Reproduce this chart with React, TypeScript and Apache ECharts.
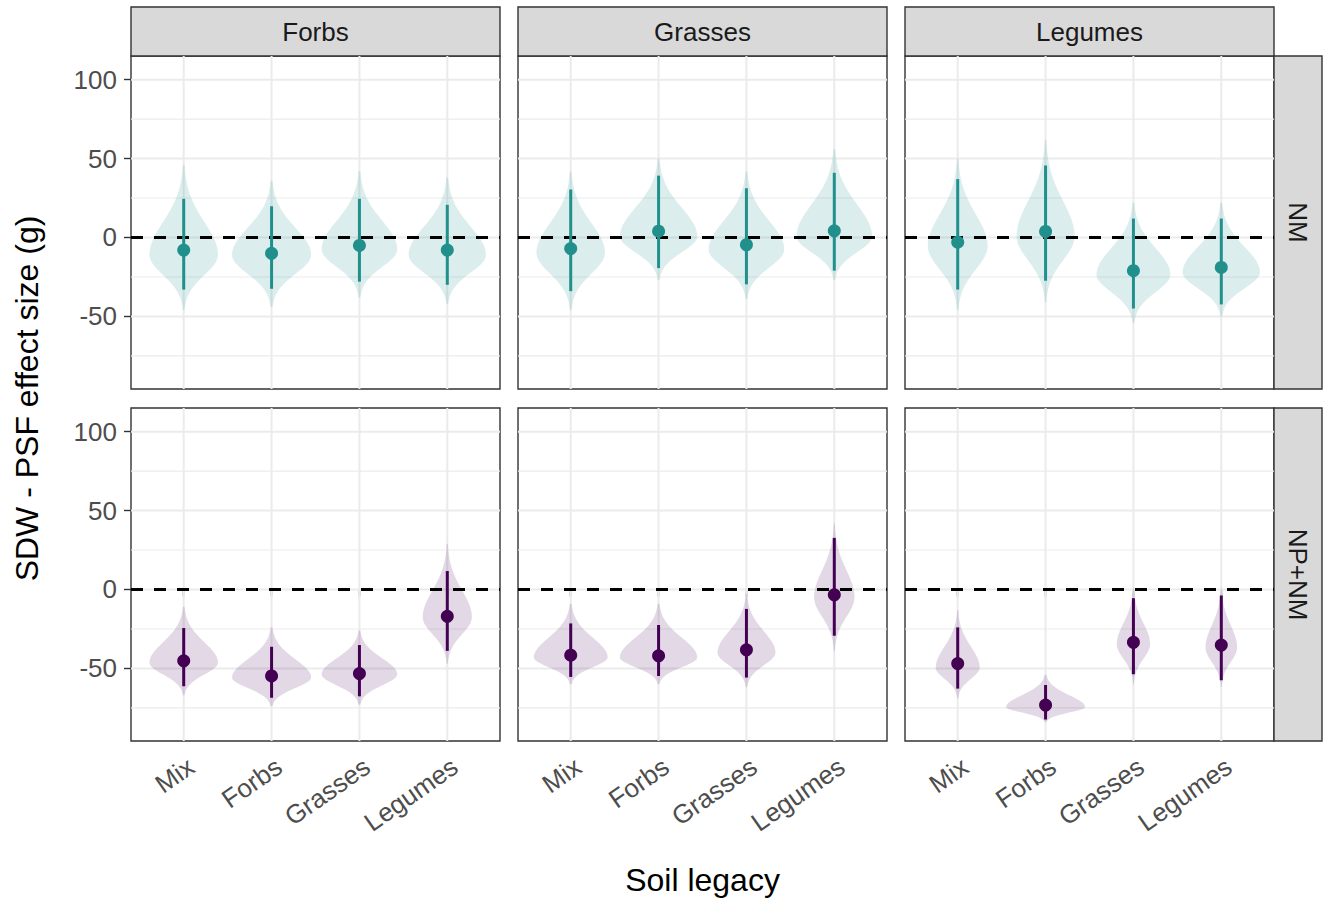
import React, { useEffect, useRef } from "react";
import * as echarts from "echarts";

// Categories
const soils = ["Mix", "Forbs", "Grasses", "Legumes"];
const focalGroups = ["Forbs", "Grasses", "Legumes"];
const treatments = ["NM", "NP+NM"];

// Axis ticks
const yMajor = [-50, 0, 50, 100];
const yMinor = [-75, -25, 25, 75];
const xTicks = [1, 2, 3, 4];
const refLine = [0];

// NM: effect estimate, interval, and posterior violin (tails, mode, half-width)
const nmEstimate = [[-8, -10, -5, -8], [-7, 4, -4.6, 4.2], [-3, 3.8, -21, -19]];
const nmLower = [[-33, -32.5, -28, -30], [-34, -19.4, -29.7, -21], [-33, -27.4, -45, -42.4]];
const nmUpper = [[24.5, 19.8, 24.5, 20.7], [30.4, 39.2, 31.2, 41], [37, 45.6, 12, 12]];
const nmViolinLow = [[-46, -44, -38, -42], [-46, -27, -39, -27], [-46, -41, -54, -50]];
const nmViolinHigh = [[46, 36, 42, 38], [42, 50, 42, 56], [50, 62, 22, 22]];
const nmViolinMode = [[-11, -11, -7.5, -11], [-9.7, 0.8, -7.6, 0.8], [-5.5, 0.8, -23.4, -22]];
const nmViolinWidth = [[0.39, 0.45, 0.43, 0.44], [0.39, 0.44, 0.43, 0.43], [0.34, 0.33, 0.42, 0.44]];

// NP+NM
const npEstimate = [[-45.2, -54.8, -53.3, -17], [-41.6, -42, -38.2, -3.4], [-46.9, -73.2, -33.5, -35.2]];
const npLower = [[-61.3, -68.6, -67.7, -38.9], [-55.4, -54.8, -55.8, -29.3], [-62.8, -82.4, -53.7, -57.5]];
const npUpper = [[-24.4, -36.3, -35.2, 11.7], [-21.5, -22.5, -12.3, 32.7], [-24, -60.5, -5.5, -3.8]];
const npViolinLow = [[-67, -74, -73, -47], [-60, -60, -62, -39], [-69, -84, -60, -62]];
const npViolinHigh = [[-11, -24, -26, 29], [-9, -9, -3, 42], [-13, -54, 1.5, 1.5]];
const npViolinMode = [[-46.3, -55.8, -53.7, -17.6], [-43, -43, -40, -4.9], [-49.5, -74.5, -34.6, -36.7]];
const npViolinWidth = [[0.39, 0.45, 0.43, 0.28], [0.42, 0.44, 0.33, 0.23], [0.25, 0.45, 0.19, 0.18]];

const rowColor = ["#21908C", "#440154"];
const rowFill = ["rgba(33,144,140,0.16)", "rgba(68,1,84,0.15)"];

// Facet layout
const LEFT0 = 131;
const TOP0 = 56;
const PANEL_W = 369;
const PANEL_H = 333;
const COL_STEP = 387;
const ROW_STEP = 352;
const STRIP_TOP_H = 49;
const STRIP_RIGHT_W = 48;
const FONT = "'Liberation Sans', Arial, Helvetica, sans-serif";
const TICK_FONT = 26;
const TITLE_FONT = 32;

const rowData = [
  { est: nmEstimate, lo: nmLower, hi: nmUpper, vLo: nmViolinLow, vHi: nmViolinHigh, vMode: nmViolinMode, vW: nmViolinWidth },
  { est: npEstimate, lo: npLower, hi: npUpper, vLo: npViolinLow, vHi: npViolinHigh, vMode: npViolinMode, vW: npViolinWidth },
];

function gridLinesItem(params: any, api: any) {
  const cs = params.coordSys;
  const children: any[] = [];
  const hLine = (v: number, w: number) => {
    const y = api.coord([1, v])[1];
    children.push({ type: "line", shape: { x1: cs.x, y1: y, x2: cs.x + cs.width, y2: y }, style: { stroke: "#EBEBEB", lineWidth: w } });
  };
  yMinor.forEach((v) => hLine(v, 1.1));
  yMajor.forEach((v) => hLine(v, 2));
  xTicks.forEach((v) => {
    const x = api.coord([v, 0])[0];
    children.push({ type: "line", shape: { x1: x, y1: cs.y, x2: x, y2: cs.y + cs.height }, style: { stroke: "#EBEBEB", lineWidth: 2 } });
  });
  return { type: "group", children };
}

function refLineItem(params: any, api: any) {
  const cs = params.coordSys;
  const y = api.coord([1, api.value(0)])[1];
  return {
    type: "line",
    shape: { x1: cs.x, y1: y, x2: cs.x + cs.width, y2: y },
    style: { stroke: "#000000", lineWidth: 3, lineDash: [12, 11] },
  };
}

function makeViolinItem(fill: string) {
  return (params: any, api: any) => {
    const x = api.value(0);
    const lo = api.value(1);
    const hi = api.value(2);
    const mode = api.value(3);
    const w = api.value(4);
    const n = 90;
    const right: number[][] = [];
    const left: number[][] = [];
    for (let k = 0; k <= n; k++) {
      const y = lo + ((hi - lo) * k) / n;
      const s = y < mode ? (mode - lo) / 2.75 : (hi - mode) / 2.75;
      const hw = w * Math.exp(-0.5 * Math.pow((y - mode) / s, 2));
      right.push(api.coord([x + hw, y]));
      left.push(api.coord([x - hw, y]));
    }
    return {
      type: "polygon",
      shape: { points: right.concat(left.reverse()) },
      style: { fill, stroke: "none" },
    };
  };
}

function makeIntervalItem(color: string) {
  return (params: any, api: any) => {
    const p1 = api.coord([api.value(0), api.value(1)]);
    const p2 = api.coord([api.value(0), api.value(2)]);
    return {
      type: "line",
      shape: { x1: p1[0], y1: p1[1], x2: p2[0], y2: p2[1] },
      style: { stroke: color, lineWidth: 3 },
    };
  };
}

function buildOption() {
  const grids: any[] = [];
  const xAxes: any[] = [];
  const yAxes: any[] = [];
  const series: any[] = [];
  const graphic: any[] = [];

  treatments.forEach((_, r) => {
    focalGroups.forEach((__, c) => {
      const idx = r * 3 + c;
      const d = rowData[r];
      grids.push({
        left: LEFT0 + c * COL_STEP,
        top: TOP0 + r * ROW_STEP,
        width: PANEL_W,
        height: PANEL_H,
        show: true,
        backgroundColor: "#FFFFFF",
        borderColor: "#333333",
        borderWidth: 1.4,
        containLabel: false,
      });
      xAxes.push({
        type: "value",
        gridIndex: idx,
        min: 0.4,
        max: 4.6,
        splitLine: { show: false },
        axisLine: { show: false },
        axisTick: {
          show: r === 1,
          customValues: xTicks,
          length: 7,
          lineStyle: { color: "#333333", width: 1.4 },
        },
        axisLabel: {
          show: r === 1,
          customValues: xTicks,
          rotate: 35,
          margin: 12,
          align: "right",
          verticalAlign: "top",
          fontSize: TICK_FONT,
          fontFamily: FONT,
          color: "#4D4D4D",
          formatter: (v: number) => soils[Math.round(v) - 1] ?? "",
        },
      });
      yAxes.push({
        type: "value",
        gridIndex: idx,
        min: -96,
        max: 115,
        splitLine: { show: false },
        axisLine: { show: false },
        axisTick: {
          show: c === 0,
          customValues: yMajor,
          length: 7,
          lineStyle: { color: "#333333", width: 1.4 },
        },
        axisLabel: {
          show: c === 0,
          customValues: yMajor,
          margin: 14,
          fontSize: TICK_FONT,
          fontFamily: FONT,
          color: "#4D4D4D",
        },
      });

      const violinRows = soils.map((_, i) => [i + 1, d.vLo[c][i], d.vHi[c][i], d.vMode[c][i], d.vW[c][i]]);
      const intervalRows = soils.map((_, i) => [i + 1, d.lo[c][i], d.hi[c][i]]);
      const pointRows = soils.map((_, i) => [i + 1, d.est[c][i]]);

      series.push({
        type: "custom",
        xAxisIndex: idx,
        yAxisIndex: idx,
        z: 1,
        silent: true,
        renderItem: gridLinesItem,
        data: [[1, 0]],
      });
      series.push({
        type: "custom",
        name: `${treatments[r]} ${focalGroups[c]} violin`,
        xAxisIndex: idx,
        yAxisIndex: idx,
        z: 2,
        renderItem: makeViolinItem(rowFill[r]),
        data: violinRows,
      });
      series.push({
        type: "custom",
        xAxisIndex: idx,
        yAxisIndex: idx,
        z: 3,
        silent: true,
        renderItem: refLineItem,
        data: refLine.map((v) => [v]),
      });
      series.push({
        type: "custom",
        xAxisIndex: idx,
        yAxisIndex: idx,
        z: 4,
        renderItem: makeIntervalItem(rowColor[r]),
        data: intervalRows,
      });
      series.push({
        type: "scatter",
        xAxisIndex: idx,
        yAxisIndex: idx,
        z: 5,
        symbol: "circle",
        symbolSize: 13,
        itemStyle: { color: rowColor[r], opacity: 1 },
        data: pointRows,
      });
    });
  });

  // Column strips
  focalGroups.forEach((name, c) => {
    const x = LEFT0 + c * COL_STEP;
    graphic.push({
      type: "rect",
      shape: { x, y: TOP0 - STRIP_TOP_H, width: PANEL_W, height: STRIP_TOP_H },
      style: { fill: "#D9D9D9", stroke: "#333333", lineWidth: 1.4 },
    });
    graphic.push({
      type: "text",
      x: x + PANEL_W / 2,
      y: TOP0 - STRIP_TOP_H / 2,
      style: { text: name, fontSize: TICK_FONT, fontFamily: FONT, fill: "#1A1A1A", align: "center", verticalAlign: "middle" },
    });
  });

  // Row strips
  treatments.forEach((name, r) => {
    const x = LEFT0 + 2 * COL_STEP + PANEL_W;
    const y = TOP0 + r * ROW_STEP;
    graphic.push({
      type: "rect",
      shape: { x, y, width: STRIP_RIGHT_W, height: PANEL_H },
      style: { fill: "#D9D9D9", stroke: "#333333", lineWidth: 1.4 },
    });
    graphic.push({
      type: "text",
      x: x + STRIP_RIGHT_W / 2,
      y: y + PANEL_H / 2,
      rotation: -Math.PI / 2,
      style: { text: name, fontSize: TICK_FONT, fontFamily: FONT, fill: "#1A1A1A", align: "center", verticalAlign: "middle" },
    });
  });

  const panelsRight = LEFT0 + 2 * COL_STEP + PANEL_W;
  const panelsBottom = TOP0 + ROW_STEP + PANEL_H;

  graphic.push({
    type: "text",
    x: (LEFT0 + panelsRight) / 2,
    y: 880,
    style: { text: "Soil legacy", fontSize: TITLE_FONT, fontFamily: FONT, fill: "#000000", align: "center", verticalAlign: "middle" },
  });
  graphic.push({
    type: "text",
    x: 27,
    y: (TOP0 + panelsBottom) / 2,
    rotation: Math.PI / 2,
    style: { text: "SDW - PSF effect size (g)", fontSize: TITLE_FONT, fontFamily: FONT, fill: "#000000", align: "center", verticalAlign: "middle" },
  });

  return {
    animation: false,
    backgroundColor: "#FFFFFF",
    grid: grids,
    xAxis: xAxes,
    yAxis: yAxes,
    series,
    graphic,
  };
}

export default function App() {
  const ref = useRef<HTMLDivElement>(null);

  useEffect(() => {
    document.body.style.margin = "0";
    if (!ref.current) return;
    const chart = echarts.init(ref.current, null, { renderer: "svg" });
    chart.setOption(buildOption() as any);
    return () => chart.dispose();
  }, []);

  return <div ref={ref} style={{ width: 1325, height: 901 }} />;
}
